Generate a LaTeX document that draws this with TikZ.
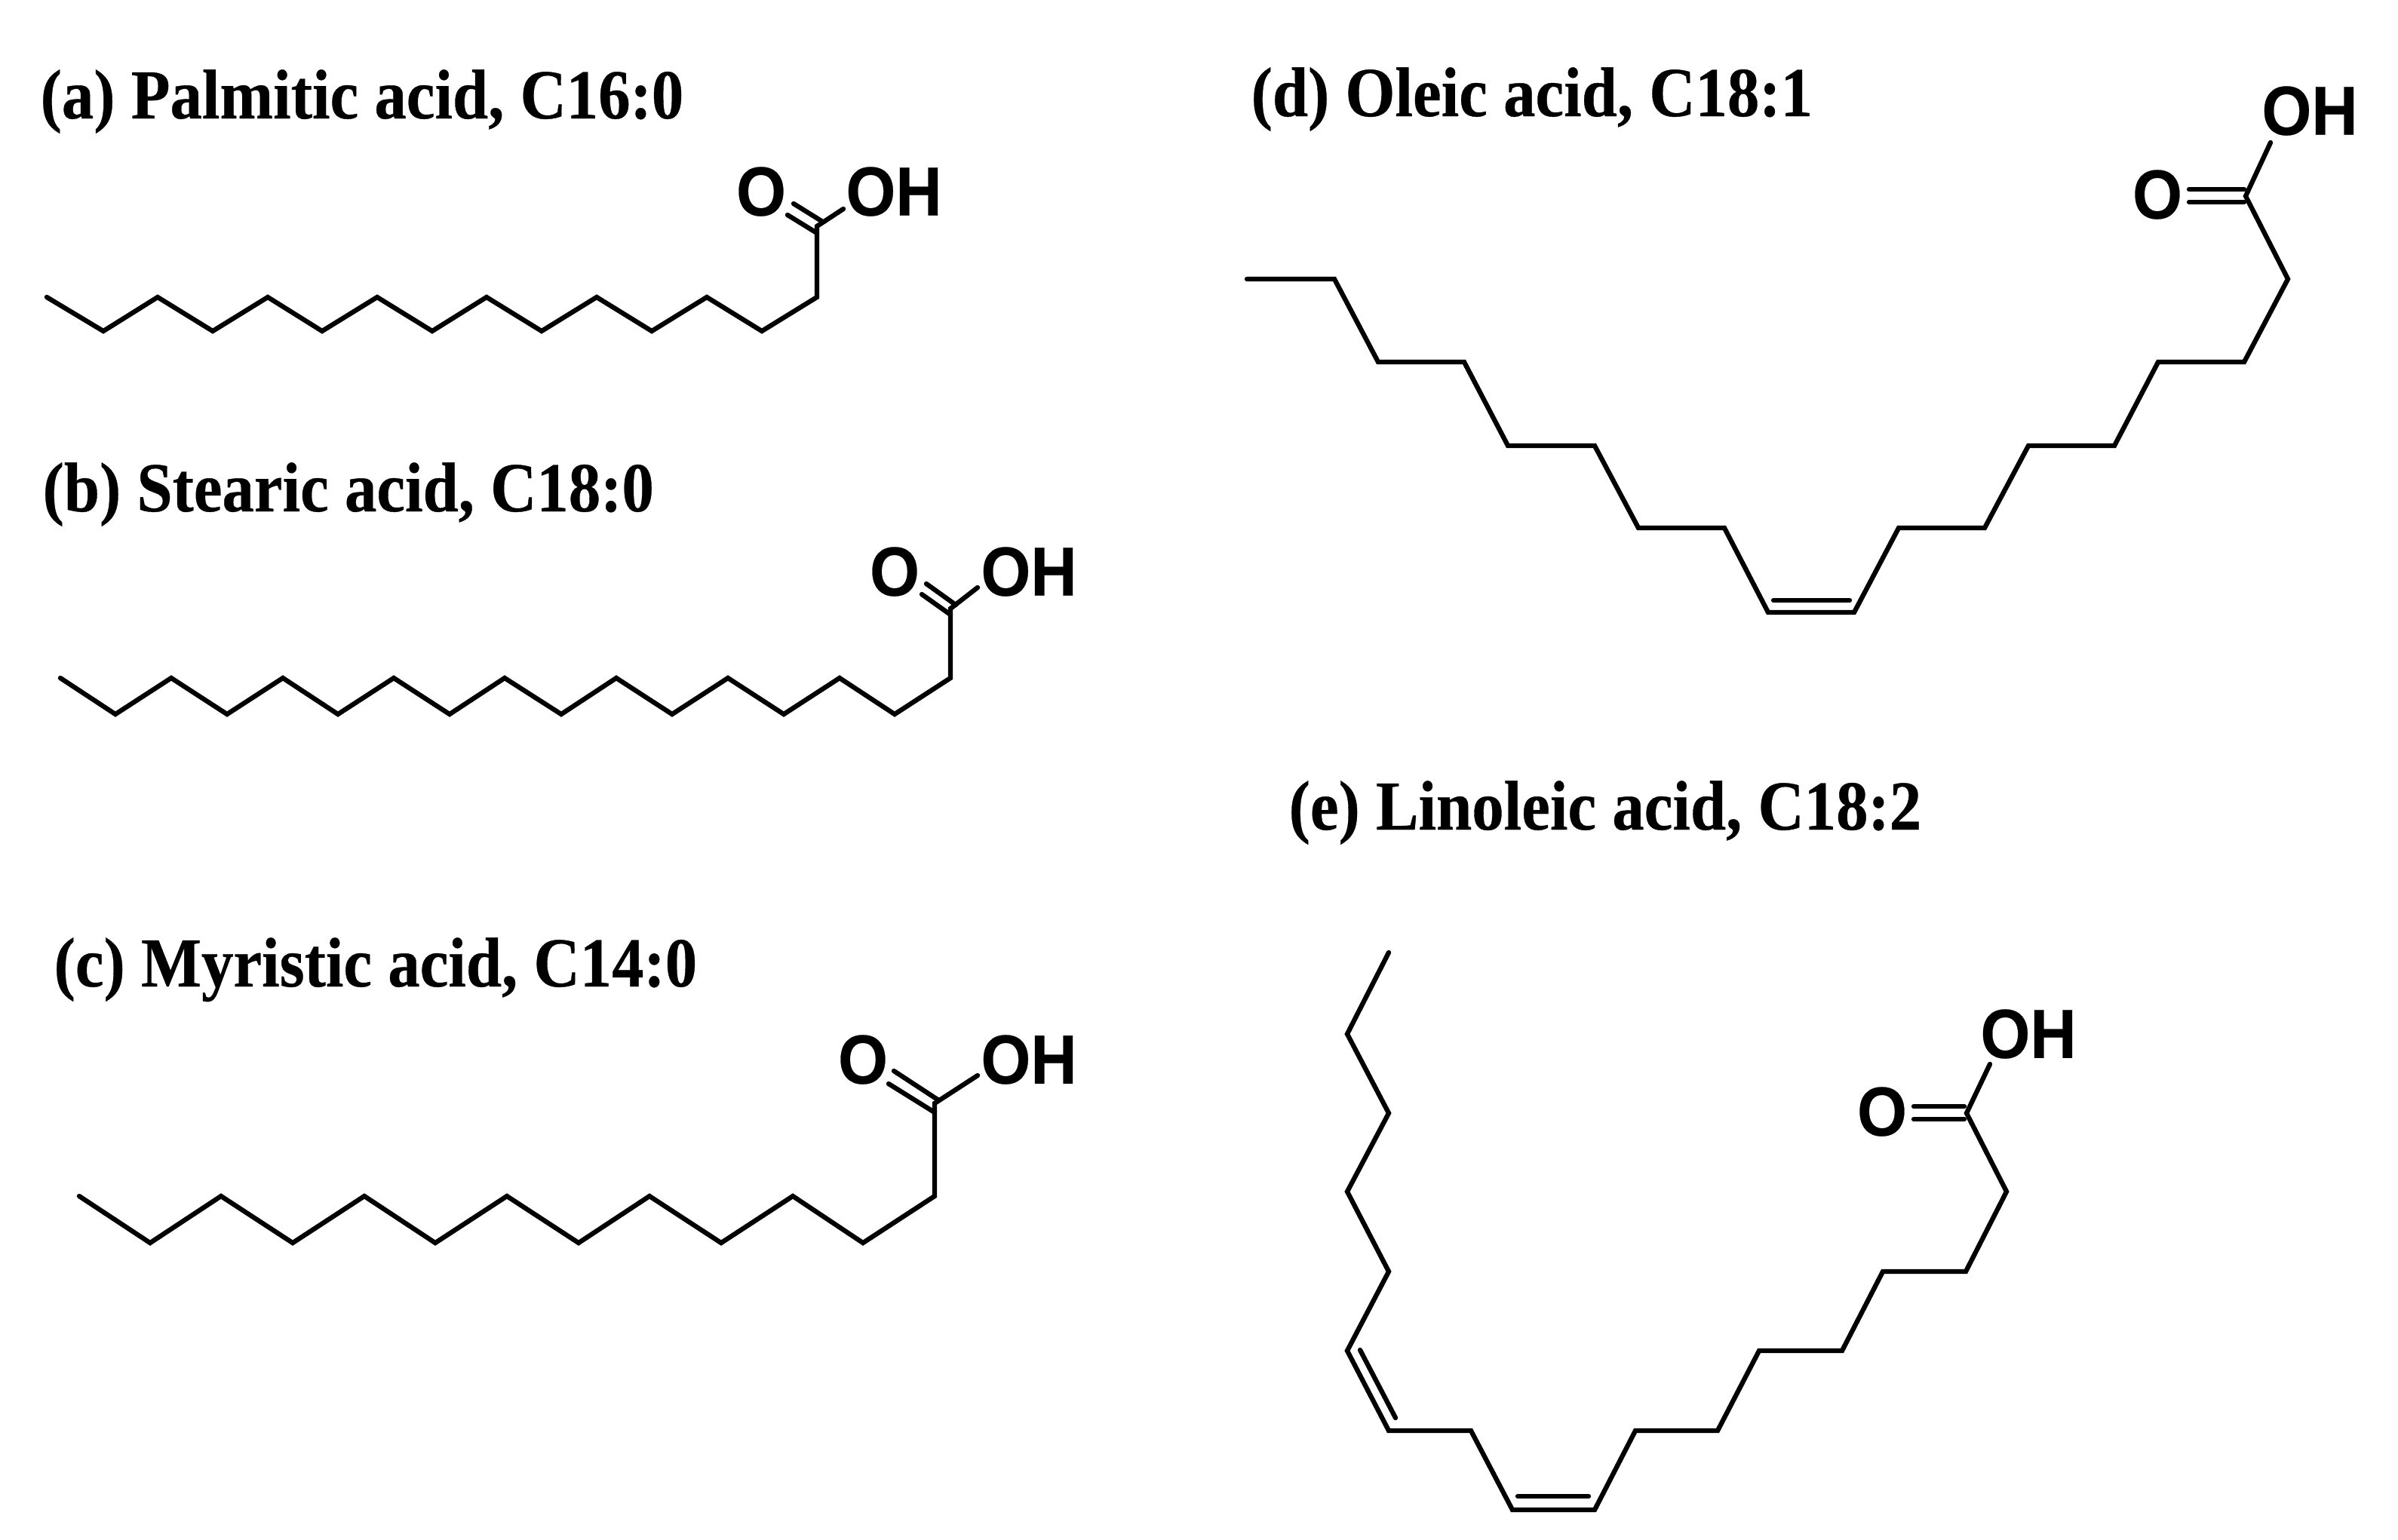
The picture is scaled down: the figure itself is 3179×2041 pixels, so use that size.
\documentclass[tikz,border=0pt]{standalone}
\usepackage{fontspec}
\setmainfont{Liberation Serif}
\setsansfont{Liberation Sans}
\tikzset{
  bond/.style={line width=1.8pt, line cap=round, line join=miter},
  atom/.style={font=\sffamily\bfseries\fontsize{26.2}{30}\selectfont\addfontfeature{FakeBold=0.3}, inner sep=0pt, transform shape, xscale=0.92},
  acid/.style={font=\rmfamily\bfseries\fontsize{26.5}{30}\selectfont\addfontfeature{FakeBold=0.4}, inner sep=0pt, anchor=base west, transform shape, xscale=0.91}
}
\begin{document}
\begin{tikzpicture}[x=0.01cm,y=-0.01cm]
\useasboundingbox (0,0) rectangle (3179,2041);

% titles
\node[acid] (atitle) at (53,157) {(a) Palmitic acid, C16:0};
\node[acid] (btitle) at (56,678) {(b) Stearic acid, C18:0};
\node[acid] (ctitle) at (71,1308) {(c) Myristic acid, C14:0};
\node[acid] (dtitle) at (1658,154) {(d) Oleic acid, C18:1};
\node[acid] (etitle) at (1708,1100) {(e) Linoleic acid, C18:2};

% palmitic
\coordinate (ac) at (1083,300);
\node[atom] (ao) at (1009,254) {O};
\node[atom] (aoh) at (1185,254) {OH};
\coordinate (aoend) at (1044,285);
\coordinate (aoin) at (1052,270);
\coordinate (aohend) at (1118,277);
\draw[bond] (62,394) -- (137,439) -- (209,394) -- (282,439) -- (355,394) -- (427,439)
  -- (500,394) -- (573,439) -- (645,394) -- (718,439) -- (791,394) -- (864,439)
  -- (937,394) -- (1010,439) -- (1083,394) -- (ac) -- (aohend);
\draw[bond] (1083,309) -- (aoend);
\draw[bond] (1089,293) -- (aoin);

% stearic
\coordinate (bc) at (1260,807);
\node[atom] (bo) at (1186,758) {O};
\node[atom] (boh) at (1364,758) {OH};
\coordinate (boend) at (1222,788);
\coordinate (boin) at (1228,774);
\coordinate (bohend) at (1296,779);
\draw[bond] (80,899) -- (153,947) -- (227,899) -- (301,947) -- (375,899) -- (448,947)
  -- (522,899) -- (596,947) -- (669,899) -- (744,947) -- (817,899) -- (891,947)
  -- (965,899) -- (1039,947) -- (1113,899) -- (1186,947) -- (1260,899) -- (bc) -- (bohend);
\draw[bond] (1260,815) -- (boend);
\draw[bond] (1267,802) -- (boin);

% myristic
\coordinate (cc) at (1239,1463);
\node[atom] (co) at (1144,1405) {O};
\node[atom] (coh) at (1364,1405) {OH};
\coordinate (coend) at (1178,1437);
\coordinate (coin) at (1185,1420);
\coordinate (cohend) at (1296,1426);
\draw[bond] (105,1586) -- (199,1648) -- (293,1586) -- (388,1648) -- (483,1586) -- (577,1648)
  -- (672,1586) -- (767,1648) -- (861,1586) -- (956,1648) -- (1051,1586) -- (1144,1648)
  -- (1239,1586) -- (cc) -- (cohend);
\draw[bond] (1239,1475) -- (coend);
\draw[bond] (1243,1458) -- (coin);

% oleic
\coordinate (dc) at (2977,260);
\node[atom] (do) at (2860,258) {O};
\node[atom] (doh) at (3062,147) {OH};
\coordinate (doend) at (2902,268);
\coordinate (doin) at (2902,251);
\coordinate (dohend) at (3010,189);
\draw[bond] (1653,370) -- (1769,370) -- (1827,480) -- (1941,480) -- (1999,591) -- (2114,591)
  -- (2172,700) -- (2286,700) -- (2344,812) -- (2458,812) -- (2517,700) -- (2631,700)
  -- (2689,591) -- (2803,591) -- (2861,480) -- (2975,480) -- (3033,370) -- (dc) -- (dohend);
\draw[bond] (2351,796) -- (2452,796);
\draw[bond] (2975,268) -- (doend);
\draw[bond] (2975,251) -- (doin);

% linoleic
\coordinate (ec) at (2607,1476);
\node[atom] (eo) at (2495,1474) {O};
\node[atom] (eoh) at (2689,1371) {OH};
\coordinate (eoend) at (2537,1484);
\coordinate (eoin) at (2537,1467);
\coordinate (eohend) at (2638,1411);
\draw[bond] (1841,1263) -- (1786,1371) -- (1841,1476) -- (1786,1580) -- (1841,1686) -- (1786,1791)
  -- (1841,1897) -- (1950,1897) -- (2005,2002) -- (2114,2002) -- (2168,1897) -- (2277,1897)
  -- (2332,1791) -- (2442,1791) -- (2496,1686) -- (2606,1686) -- (2660,1580) -- (ec) -- (eohend);
\draw[bond] (1803,1790) -- (1850,1880);
\draw[bond] (2012,1984) -- (2106,1984);
\draw[bond] (2604,1484) -- (eoend);
\draw[bond] (2604,1467) -- (eoin);
\end{tikzpicture}
\end{document}
